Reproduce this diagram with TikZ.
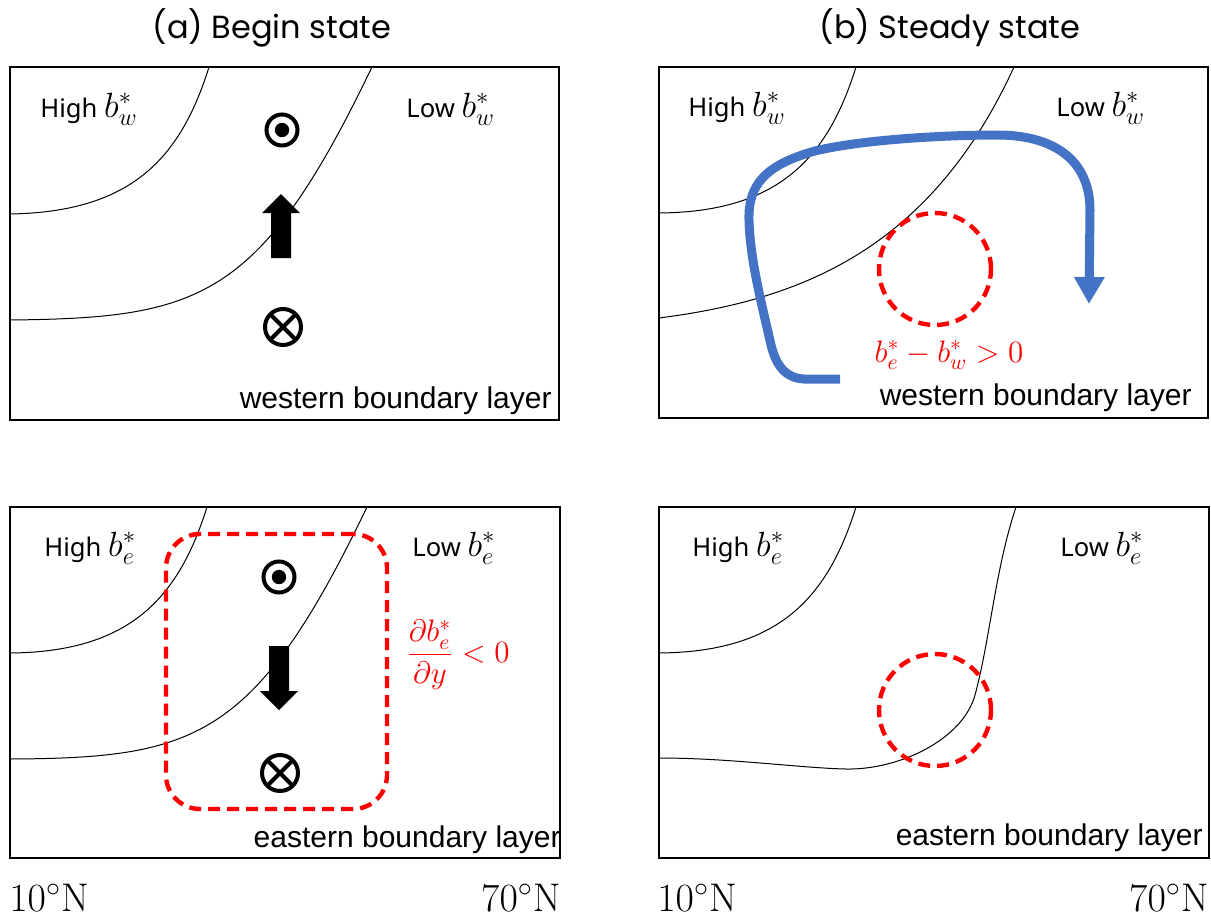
\RequirePackage{fix-cm}
\documentclass[tikz,border=0pt]{standalone}
\usepackage[no-math]{fontspec}
\setmainfont{Noto Sans}
\newfontfamily\headfont{Poppins}
\newfontfamily\arialfont{Liberation Sans}
\usetikzlibrary{arrows.meta}
\definecolor{flowblue}{RGB}{68,114,196}
\newcommand{\buoy}[1]{{\fontsize{17.5}{20}\selectfont$b_{#1}^{*}$}}

\begin{document}
\begin{tikzpicture}[
    x=0.5pt, y=-0.5pt,
    panel/.style={draw, line width=1pt},
    iso/.style={line width=0.5pt},
    heading/.style={font=\headfont\fontsize{16}{19}\selectfont},
    tag/.style={anchor=base west, inner sep=0pt, font=\fontsize{12.8}{15}\selectfont},
    layer/.style={anchor=base east, inner sep=0pt, font=\arialfont\fontsize{15}{18}\selectfont},
    lat/.style={inner sep=0pt, font=\fontsize{20}{23}\selectfont},
    anomaly/.style={draw=red, line width=2.2pt, dash pattern=on 6pt off 3.5pt},
    redtext/.style={text=red, inner sep=0pt, font=\fontsize{#1}{18}\selectfont},
    flow/.style={draw=flowblue, line width=4.5pt, -{Triangle[width=14.5pt,length=13.5pt]}},
    outof/.style={circle, draw, line width=2pt, minimum size=15.5pt, inner sep=0pt,
        path picture={\fill (path picture bounding box.center) circle (3.6pt);}},
    into/.style={circle, draw, line width=2pt, minimum size=18pt, inner sep=0pt,
        path picture={\draw[line width=2pt] (path picture bounding box.north west) -- (path picture bounding box.south east)
            (path picture bounding box.north east) -- (path picture bounding box.south west);}}
]
    \useasboundingbox (0,0) rectangle (1211,916);

    % Titres des colonnes
    \node[heading] (titleA) at (272,28) {(a) Begin state};
    \node[heading] (titleB) at (950,28) {(b) Steady state};

    % Cadres
    \draw[panel] (10,67) rectangle (559,420);
    \draw[panel] (659,67) rectangle (1208,418);
    \draw[panel] (10,507) rectangle (560,858);
    \draw[panel] (659,507) rectangle (1209,858);

    % Isolignes
    \draw[iso] (209,67) .. controls (180,160) and (130,212) .. (10,214);
    \draw[iso] (372,67) .. controls (260,300) and (200,318) .. (10,320);
    \draw[iso] (207,507) .. controls (178,600) and (128,652) .. (10,653);
    \draw[iso] (367,507) .. controls (255,740) and (195,758) .. (10,759);
    \draw[iso] (856,67) .. controls (827,160) and (777,212) .. (659,213);
    \draw[iso] (1014,67) .. controls (930,250) and (800,300) .. (659,318);
    \draw[iso] (856,507) .. controls (827,600) and (777,652) .. (659,653);
    \draw[iso] (1016,507) .. controls (995,570) and (990,640) .. (975,695)
        .. controls (963,739) and (900,770) .. (846,769)
        .. controls (800,768) and (730,758) .. (659,758);

    % Etiquettes
    \node[tag] (highA) at (40,117) {High \buoy{w}};
    \node[tag] (lowA) at (406,117) {Low \buoy{w}};
    \node[tag] (highB) at (688,116) {High \buoy{w}};
    \node[tag] (lowB) at (1056,116) {Low \buoy{w}};
    \node[tag] (highC) at (44,556) {High \buoy{e}};
    \node[tag] (lowC) at (412,556) {Low \buoy{e}};
    \node[tag] (highD) at (692,556) {High \buoy{e}};
    \node[tag] (lowD) at (1060,556) {Low \buoy{e}};
    \node[layer] (wblA) at (552,408) {western boundary layer};
    \node[layer] (wblB) at (1192,405) {western boundary layer};
    \node[layer] (eblA) at (561,847) {eastern boundary layer};
    \node[layer] (eblB) at (1203,845) {eastern boundary layer};

    % Vitesses
    \node[outof] (outA) at (282,130) {};
    \node[into] (inA) at (283,327) {};
    \node[outof] (outC) at (279,577) {};
    \node[into] (inC) at (280,773) {};
    \fill (271,258) -- (271,213) -- (262,213) -- (281,194) -- (300,213) -- (291,213) -- (291,258) -- cycle;
    \fill (269,646) -- (289,646) -- (289,691) -- (298,691) -- (279,710) -- (260,691) -- (269,691) -- cycle;

    % Anomalies
    \node[anomaly, rounded corners=17pt, minimum width=110.5pt, minimum height=137.5pt] (region) at (276.5,671.5) {};
    \node[anomaly, circle, minimum size=56pt] (warmB) at (935,269) {};
    \node[anomaly, circle, minimum size=56pt] (warmD) at (935,710) {};
    \node[redtext=15.5] (gradient) at (458,655) {$\displaystyle\frac{\partial b_e^*}{\partial y} < 0$};
    \node[redtext=15.5, anchor=base] (contrast) at (949,362) {$b_e^* - b_w^* > 0$};

    % Circulation
    \draw[flow] (840,379) -- (804,379) .. controls (785,378) and (776,365) .. (771,345)
        .. controls (762,305) and (750,260) .. (749,220)
        .. controls (748,185) and (765,165) .. (815,151)
        .. controls (860,140) and (940,135) .. (1000,135)
        .. controls (1060,136) and (1090,165) .. (1090,210) -- (1089,304);

    % Latitudes
    \node[lat, anchor=base west] (southA) at (9,911) {$10^{\circ}\mathrm{N}$};
    \node[lat, anchor=base east] (northA) at (561,911) {$70^{\circ}\mathrm{N}$};
    \node[lat, anchor=base west] (southB) at (657,911) {$10^{\circ}\mathrm{N}$};
    \node[lat, anchor=base east] (northB) at (1209,911) {$70^{\circ}\mathrm{N}$};
\end{tikzpicture}
\end{document}
